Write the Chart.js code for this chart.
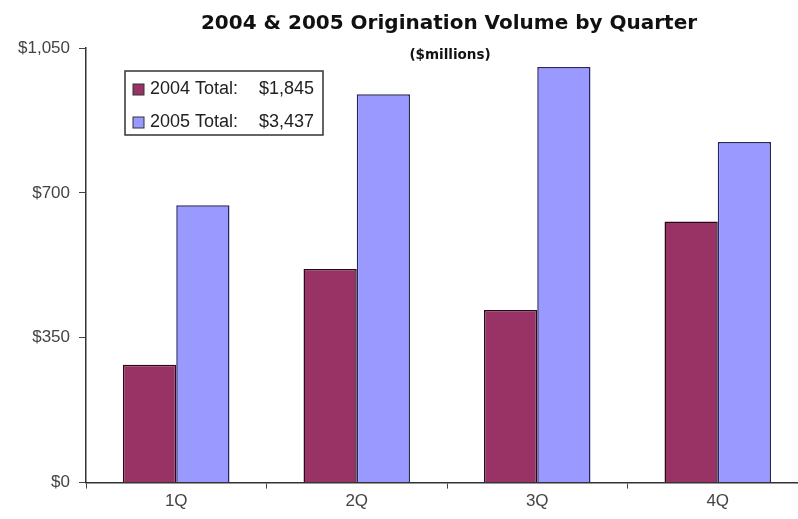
<!DOCTYPE html>
<html>
<head>
<meta charset="utf-8">
<script src="https://cdn.jsdelivr.net/npm/chart.js@4/dist/chart.umd.min.js"></script>
<style>
  html, body { margin: 0; padding: 0; background: #fff; overflow: hidden; }
  #clip { width: 798px; height: 519px; overflow: hidden; }
  #wrap { width: 808px; height: 519px; position: relative; }
</style>
</head>
<body>
<div id="clip"><div id="wrap"><canvas id="chart"></canvas></div></div>
<script>
const quarters = ["1Q", "2Q", "3Q", "4Q"];
const vol2004 = [285, 516, 417, 631];
const vol2005 = [670, 938, 1004, 823];
const seriesNames = ["2004 Total:", "2005 Total:"];
const seriesTotals = ["$1,845", "$3,437"];
const yTicks = [0, 350, 700, 1050];

const fill2004 = '#993366';
const fill2005 = '#9999FF';
const labelFont = '"Liberation Sans", Arial, sans-serif';

// title + subtitle, centred as in the original picture
const titlePlugin = {
  id: 'titles',
  afterDraw(chart) {
    const ctx = chart.ctx;
    const cx = 449;
    ctx.save();
    ctx.fillStyle = '#111';
    ctx.textAlign = 'center';
    ctx.textBaseline = 'middle';
    ctx.font = 'bold 20px "DejaVu Sans", Verdana, sans-serif';
    ctx.fillText('2004 & 2005 Origination Volume by Quarter', cx, 24);
    ctx.font = 'bold 13.5px "DejaVu Sans", Verdana, sans-serif';
    ctx.fillText('($millions)', cx + 1, 55);
    ctx.restore();
  }
};

// boxed legend inside the plot, top-left
const legendBox = {
  id: 'legendBox',
  afterDraw(chart) {
    const ctx = chart.ctx;
    const x = 125, y = 71, w = 198, h = 64;
    ctx.save();
    ctx.fillStyle = '#fff';
    ctx.fillRect(x, y, w, h);
    ctx.strokeStyle = '#333';
    ctx.lineWidth = 1.5;
    ctx.strokeRect(x, y, w, h);
    ctx.font = '18px ' + labelFont;
    ctx.textBaseline = 'middle';
    chart.data.datasets.forEach((ds, i) => {
      const ry = y + 18 + i * 33;
      ctx.fillStyle = ds.backgroundColor;
      ctx.fillRect(x + 8, ry - 5, 11, 11);
      ctx.strokeStyle = '#333';
      ctx.lineWidth = 1;
      ctx.strokeRect(x + 8, ry - 5, 11, 11);
      ctx.fillStyle = '#222';
      ctx.textAlign = 'left';
      ctx.fillText(seriesNames[i], x + 25, ry);
      ctx.textAlign = 'right';
      ctx.fillText(seriesTotals[i], x + w - 9, ry);
    });
    ctx.restore();
  }
};

new Chart(document.getElementById('chart'), {
  type: 'bar',
  data: {
    labels: quarters,
    datasets: [
      {
        label: '2004',
        data: vol2004,
        backgroundColor: fill2004,
        borderColor: '#2a0a1a',
        borderWidth: 1.5,
        categoryPercentage: 0.59,
        barPercentage: 1.0
      },
      {
        label: '2005',
        data: vol2005,
        backgroundColor: fill2005,
        borderColor: '#262660',
        borderWidth: 1.5,
        categoryPercentage: 0.59,
        barPercentage: 1.0
      }
    ]
  },
  options: {
    responsive: true,
    maintainAspectRatio: false,
    animation: false,
    layout: { padding: { top: 48, right: 0, bottom: 4, left: 0 } },
    plugins: {
      legend: { display: false },
      tooltip: { enabled: false }
    },
    scales: {
      x: {
        grid: {
          offset: true,
          drawOnChartArea: false,
          drawTicks: true,
          tickLength: 6,
          color: '#444'
        },
        border: { color: '#333', width: 1.5 },
        ticks: {
          color: '#444',
          padding: 3,
          font: { family: labelFont, size: 17 }
        }
      },
      y: {
        min: 0,
        max: 1050,
        afterBuildTicks(scale) {
          scale.ticks = yTicks.map(v => ({ value: v }));
        },
        afterFit(scale) {
          scale.width = 86;
        },
        grid: {
          drawOnChartArea: false,
          drawTicks: true,
          tickLength: 7,
          color: '#444'
        },
        border: { color: '#333', width: 1.5 },
        ticks: {
          color: '#444',
          padding: 9,
          font: { family: labelFont, size: 17 },
          callback: v => '$' + v.toLocaleString('en-US')
        }
      }
    }
  },
  plugins: [titlePlugin, legendBox]
});
</script>
</body>
</html>
